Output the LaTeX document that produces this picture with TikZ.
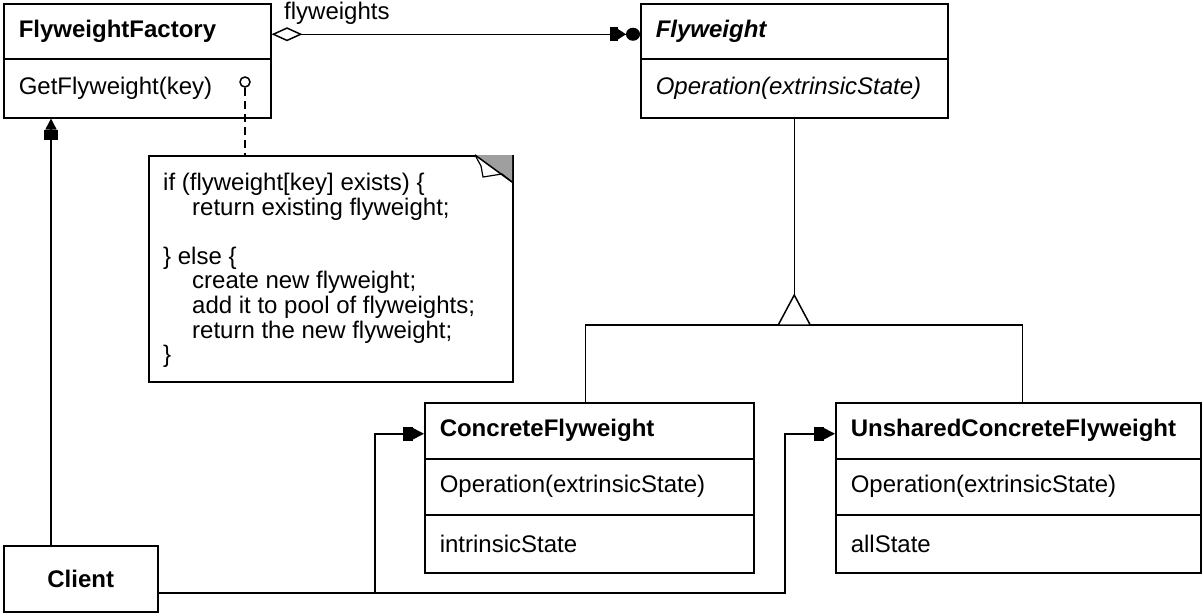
\documentclass[tikz,border=0pt]{standalone}
\usepackage{fontspec}
\setmainfont{Liberation Sans}
\usetikzlibrary{arrows.meta}
\begin{document}
\begin{tikzpicture}[x=1pt,y=-1pt,
  every node/.style={font=\fontsize{24}{28}\selectfont},
  comp/.style={draw, line width=1.5pt, anchor=north west, inner xsep=15pt, inner ysep=0pt, align=left},
  conn/.style={line width=1.5pt},
  tip/.style={-{Square[length=10pt,width=14pt] Triangle[length=11pt,width=11pt]}},
]
\useasboundingbox (0,0) rectangle (1202,613);

% FlyweightFactory
\node[comp, minimum width=267pt, minimum height=55pt, text width=237pt] (ffT) at (3,3) {\bfseries FlyweightFactory};
\node[comp, minimum width=267pt, minimum height=59pt, text width=237pt] (ffO) at (3,58) {GetFlyweight(key)};

% Flyweight
\node[comp, minimum width=307pt, minimum height=55pt, text width=277pt] (fwT) at (640,3) {\bfseries\itshape Flyweight};
\node[comp, minimum width=307pt, minimum height=59pt, text width=277pt] (fwO) at (640,58) {\itshape Operation(extrinsicState)};

% ConcreteFlyweight
\node[comp, minimum width=329pt, minimum height=56pt, text width=299pt] (cT) at (424,402) {\bfseries ConcreteFlyweight};
\node[comp, minimum width=329pt, minimum height=56pt, text width=299pt] (cO) at (424,458) {Operation(extrinsicState)};
\node[comp, minimum width=329pt, minimum height=58pt, text width=299pt] (cS) at (424,514) {intrinsicState};

% UnsharedConcreteFlyweight
\node[comp, minimum width=365pt, minimum height=56pt, text width=335pt] (uT) at (835,402) {\bfseries UnsharedConcreteFlyweight};
\node[comp, minimum width=365pt, minimum height=56pt, text width=335pt] (uO) at (835,458) {Operation(extrinsicState)};
\node[comp, minimum width=365pt, minimum height=58pt, text width=335pt] (uS) at (835,514) {allState};

% Client
\node[draw, line width=1.5pt, anchor=north west, minimum width=154pt, minimum height=66pt, inner sep=0pt] (client) at (3,545) {\bfseries Client};

% Note
\node[draw, line width=1.5pt, anchor=north west, minimum width=364pt, minimum height=226pt, inner sep=0pt] (note) at (148,155) {};
\fill[gray!75] (475,155) -- (512,155) -- (512,182) -- cycle;
\draw[line width=1.2pt, fill=white] (475,155) -- (481,166) -- (483,177) -- (502,174) -- (512,182);
\draw[conn] (475,155) -- (512,182);
\node[anchor=north west, align=left, inner sep=0pt, font=\fontsize{24}{24.6}\selectfont] (notetext) at (163,173)
 {if (flyweight[key] exists) \{\\
  \hspace*{29pt}return existing flyweight;\\[24.6pt]
  \} else \{\\
  \hspace*{29pt}create new flyweight;\\
  \hspace*{29pt}add it to pool of flyweights;\\
  \hspace*{29pt}return the new flyweight;\\
  \}};

% note anchor
\node[circle, draw, line width=1.5pt, inner sep=0pt, minimum size=10pt, fill=white] (knob) at (245,82) {};
\draw[conn, dash pattern=on 8pt off 5pt] (knob.south) -- (knob.south |- note.north);

% aggregation
\draw[conn, {Diamond[open,length=31pt,width=14pt]}-{Square[length=8pt,width=14pt] Triangle[length=8pt,width=10pt] Circle[length=14pt,width=13pt]}]
  ([yshift=-3pt]ffT.east) -- ([yshift=-3pt]fwT.west);
\node[anchor=west, inner sep=0pt] (lbl) at (284,13) {flyweights};

% inheritance
\coordinate (tb) at (fwO.south |- 0,325);
\draw[conn] (fwO.south) -- (tb);
\draw[conn] ([xshift=-4pt]cT.north) |- ([xshift=4pt]uT.north |- tb) -- ([xshift=4pt]uT.north);
\draw[conn, fill=white] ([xshift=-16pt]tb) -- ([yshift=30pt]tb) -- ([xshift=16pt]tb) -- cycle;

% client links
\coordinate (cu) at (51,0);
\coordinate (j1) at (375,0);
\coordinate (j2) at (785,0);
\draw[conn, tip] (client.north -| cu) -- (ffO.south -| cu);
\draw[conn, tip] ([yshift=-14pt]client.east) -| ([yshift=-3pt]cT.west -| j1) -- ([yshift=-3pt]cT.west);
\draw[conn, tip] ([yshift=-14pt]client.east) -| ([yshift=-3pt]uT.west -| j2) -- ([yshift=-3pt]uT.west);
\end{tikzpicture}
\end{document}
